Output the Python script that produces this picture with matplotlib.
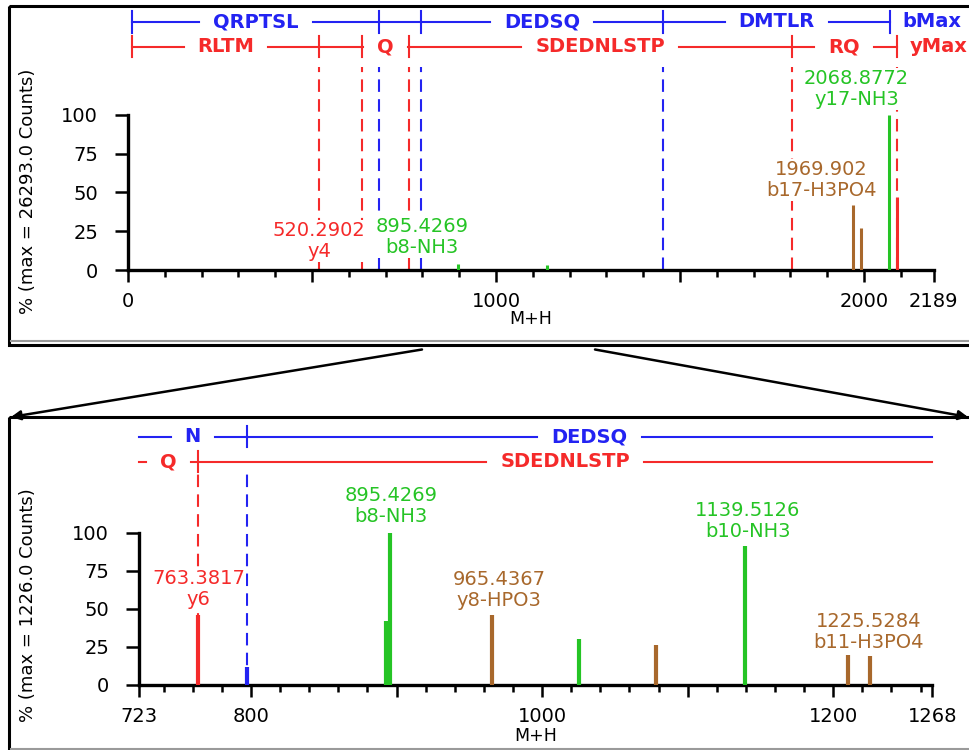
"""MS/MS spectrum of a phosphopeptide: full M+H range with b/y ladders, and a zoomed window below."""
import matplotlib

matplotlib.use("Agg")  # no display
import matplotlib.pyplot as plt
from matplotlib.patches import Rectangle

plt.rcParams["font.family"] = ["DejaVu Sans"]

W, H = 970, 750  # output size in pixels (dpi 100)

BLUE = "#2323f2"
RED = "#f52a2a"
GREEN = "#25c425"
BROWN = "#a8682c"
KIND_COLOR = {"b": BLUE, "y": RED, "nh3": GREEN, "po4": BROWN}

# ---- sequence ladders (M+H boundaries and residues between them)
b_bounds = [12, 683, 797, 1455, 2071]
b_residues = ["QRPTSL", "N", "DEDSQ", "DMTLR"]
y_bounds = [12, 520.29, 635, 763.38, 1803, 2089]
y_residues = ["RLTM", "D", "Q", "SDEDNLSTP", "RQ"]

# ---- full spectrum
top_xlim = (0, 2189)
top_max_counts = "26293.0"
top_peak_mz = [895.43, 1139.51, 1969.90, 1993.0, 2068.88, 2089.0]
top_peak_pct = [4, 3.5, 42, 27, 100, 47]
top_peak_kind = ["nh3", "nh3", "po4", "po4", "nh3", "y"]
top_b_marks = [683, 797, 1455]
top_y_marks = [520.29, 635, 763.38, 1803, 2089]
top_label_mz = ["520.2902", "895.4269", "1969.902", "2068.8772"]
top_label_ion = ["y4", "b8-NH3", "b17-H3PO4", "y17-NH3"]
top_label_kind = ["y", "nh3", "po4", "nh3"]
top_ticks = [0, 500, 1000, 1500, 2000, 2189]
top_ticklabels = ["0", "", "1000", "", "2000", "2189"]

# ---- zoomed window
bot_xlim = (723, 1268)
bot_max_counts = "1226.0"
bot_peak_mz = [763.38, 797, 893, 895.43, 965.44, 1025, 1078, 1139.51, 1210, 1225.53]
bot_peak_pct = [46, 12, 42, 100, 46, 30, 26, 91, 20, 19]
bot_peak_kind = ["y", "b", "nh3", "nh3", "po4", "nh3", "po4", "nh3", "po4", "po4"]
bot_b_marks = [797]
bot_y_marks = [763.38]
bot_label_mz = ["763.3817", "895.4269", "965.4367", "1139.5126", "1225.5284"]
bot_label_ion = ["y6", "b8-NH3", "y8-HPO3", "b10-NH3", "b11-H3PO4"]
bot_label_kind = ["y", "nh3", "po4", "nh3", "po4"]
bot_ticks = [723, 800, 900, 1000, 1100, 1200, 1268]
bot_ticklabels = ["723", "800", "", "1000", "", "1200", "1268"]

# label anchor positions (x in M+H, y in %), layout only
top_label_xy = [(519, 18.7), (798, 21.3), (1885, 58), (1980, 116.8)]
bot_label_xy = [(763.8, 63), (896, 117.5), (970.4, 62.4), (1141.2, 107.7), (1224.2, 34.8)]

LADDER_PAD = 14  # px gap between ladder line and its residue text


def px_rect(left, right, top, bottom):
    return [left / W, 1 - bottom / H, (right - left) / W, (bottom - top) / H]


def style_axis(ax, xlim, ytop, ticks, ticklabels, minor):
    ax.set_xlim(*xlim)
    ax.set_ylim(0, ytop)
    ax.patch.set_alpha(0)
    for s in ("top", "right"):
        ax.spines[s].set_visible(False)
    ax.spines["left"].set_bounds(0, 100)
    for s in ("left", "bottom"):
        ax.spines[s].set_linewidth(2.4)
    ax.set_yticks([0, 25, 50, 75, 100])
    ax.set_xticks(ticks)
    ax.set_xticklabels(ticklabels)
    ax.set_xticks(minor, minor=True)
    ax.tick_params(axis="y", length=9.5, width=1.8, pad=12, labelsize=14)
    ax.tick_params(axis="x", which="major", length=8.5, width=1.8, pad=7, labelsize=14)
    ax.tick_params(axis="x", which="minor", length=5, width=1.8)


def place_ladder(ax, bounds, residues, y, color, end_label=None):
    """Ticks + residue texts; the line itself is drawn after text sizes are known."""
    lo, hi = ax.get_xlim()
    segs = []
    for a, b, res in zip(bounds[:-1], bounds[1:], residues):
        a_v, b_v = max(a, lo), min(b, hi)
        if b_v <= a_v:
            continue
        t = ax.text((a_v + b_v) / 2, y, res, color=color, ha="center", va="center",
                    fontsize=14, fontweight="bold", clip_on=False)
        segs.append((ax, a_v, b_v, y, color, t))
    for x in bounds:
        if lo <= x <= hi:
            ax.plot([x, x], [y - 7, y + 7], color=color, lw=1.5, clip_on=False)
    if end_label and bounds[-1] <= hi:
        ax.annotate(end_label, (bounds[-1], y), xytext=(9, 0), textcoords="offset points",
                    color=color, ha="left", va="center", fontsize=14, fontweight="bold",
                    annotation_clip=False)
    return segs


def finish_ladders(fig, segs):
    fig.canvas.draw()
    renderer = fig.canvas.get_renderer()
    for ax, a_v, b_v, y, color, t in segs:
        bb = t.get_window_extent(renderer)
        a_px = ax.transData.transform((a_v, y))[0]
        b_px = ax.transData.transform((b_v, y))[0]
        if bb.width + 2 * LADDER_PAD > b_px - a_px:
            t.remove()
            ax.plot([a_v, b_v], [y, y], color=color, lw=1.5, clip_on=False)
            continue
        inv = ax.transData.inverted()
        left = inv.transform((bb.x0 - LADDER_PAD, 0))[0]
        right = inv.transform((bb.x1 + LADDER_PAD, 0))[0]
        if left > a_v:
            ax.plot([a_v, left], [y, y], color=color, lw=1.5, clip_on=False)
        if right < b_v:
            ax.plot([right, b_v], [y, y], color=color, lw=1.5, clip_on=False)


def draw_spectrum(ax, mz, pct, kind, bar_lw):
    ax.vlines(mz, 0, pct, colors=[KIND_COLOR[k] for k in kind], lw=bar_lw, zorder=3)


def draw_marks(ax, marks, top, color):
    ax.vlines(marks, 0, top, colors=color, lw=1.5, linestyles=(0, (6, 3.5)), zorder=2)


def draw_labels(ax, mzs, ions, kinds, xy):
    for mz, ion, k, (x, y) in zip(mzs, ions, kinds, xy):
        ax.text(x, y, f"{mz}\n{ion}", color=KIND_COLOR[k], ha="center", va="center",
                fontsize=14, linespacing=1.1, zorder=4, clip_on=False,
                bbox=dict(facecolor="white", edgecolor="none", pad=1.0))


fig = plt.figure(figsize=(W / 100, H / 100), dpi=100)

# background layer in pixel coordinates for the panel frames and zoom arrows
bg = fig.add_axes([0, 0, 1, 1], zorder=-1)
bg.set_xlim(0, W)
bg.set_ylim(H, 0)
bg.axis("off")
bg.add_patch(Rectangle((9.5, 5.5), 980, 339, fill=False, lw=2.2, ec="black"))
bg.plot([11, W], [340.5, 340.5], color="#9a9a9a", lw=1.5)
bg.add_patch(Rectangle((9.5, 417), 980, 400, fill=False, lw=2.2, ec="black"))
bg.plot([11, W], [748.5, 748.5], color="#9a9a9a", lw=1.5)
arrow = dict(arrowstyle="-|>", color="black", lw=1.8, mutation_scale=14, shrinkA=0, shrinkB=0)
bg.annotate("", xy=(11, 417), xytext=(422, 349.5), arrowprops=arrow)
bg.annotate("", xy=(968, 417), xytext=(595, 349.5), arrowprops=arrow)

# ---- top panel: full range
ax1 = fig.add_axes(px_rect(128, 933.6, 270 - 165 * 1.55, 270))
style_axis(ax1, top_xlim, 165, top_ticks, top_ticklabels, list(range(100, 2189, 100)))
draw_marks(ax1, top_b_marks, 131, BLUE)
draw_marks(ax1, top_y_marks, 131, RED)
draw_spectrum(ax1, top_peak_mz, top_peak_pct, top_peak_kind, 2.2)
draw_labels(ax1, top_label_mz, top_label_ion, top_label_kind, top_label_xy)
segs = place_ladder(ax1, b_bounds, b_residues, 160.2, BLUE, "bMax")
segs += place_ladder(ax1, y_bounds, y_residues, 144.1, RED, "yMax")
fig.text(530.8 / W, 1 - 319 / H, "M+H", ha="center", va="center", fontsize=12.5)
fig.text(28 / W, 1 - 191 / H, f"% (max = {top_max_counts} Counts)", rotation=90,
         ha="center", va="center", fontsize=13)

# ---- bottom panel: zoomed window
ax2 = fig.add_axes(px_rect(139, 932.2, 685 - 170 * 1.523, 685))
style_axis(ax2, bot_xlim, 170, bot_ticks, bot_ticklabels, list(range(740, 1268, 20)))
draw_marks(ax2, bot_b_marks, 139, BLUE)
draw_marks(ax2, bot_y_marks, 139, RED)
draw_spectrum(ax2, bot_peak_mz, bot_peak_pct, bot_peak_kind, 3.0)
draw_labels(ax2, bot_label_mz, bot_label_ion, bot_label_kind, bot_label_xy)
segs += place_ladder(ax2, b_bounds, b_residues, 163.0, BLUE)
segs += place_ladder(ax2, y_bounds, y_residues, 146.6, RED)
fig.text(535.5 / W, 1 - 736 / H, "M+H", ha="center", va="center", fontsize=12.5)
fig.text(28 / W, 1 - 605.5 / H, f"% (max = {bot_max_counts} Counts)", rotation=90,
         ha="center", va="center", fontsize=13)

finish_ladders(fig, segs)

fig.savefig("out.png", dpi=100)
plt.close(fig)
